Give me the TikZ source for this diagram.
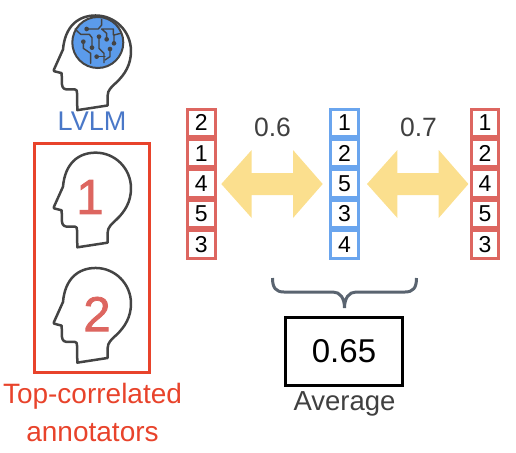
\documentclass[tikz,border=0pt]{standalone}
\usepackage{fontspec}
\setmainfont{Liberation Sans}
\newfontfamily\bigdigit[FakeBold=1.6]{Liberation Sans}
\definecolor{boxred}{HTML}{E8432B}
\definecolor{listred}{HTML}{DD6660}
\definecolor{listblue}{HTML}{6AA5EE}
\definecolor{arrowy}{HTML}{FBDF8E}
\definecolor{headgray}{HTML}{444444}
\definecolor{bracegray}{HTML}{5A6470}
\definecolor{brainblue}{HTML}{5B9BEB}
\definecolor{lvlmblue}{HTML}{4A78C8}
\definecolor{txtgray}{HTML}{404040}
\newcommand{\fs}[1]{\fontsize{#1}{#1}\selectfont}
\tikzset{
 x=1pt,y=-1pt,
 headline/.style={draw=headgray,line width=2.5pt,line join=round,line cap=round},
 redcell/.style={draw=listred,line width=3pt,minimum width=27.5pt,minimum height=27.4pt,inner sep=0pt,text=black,font=\fs{23}},
 bluecell/.style={redcell,draw=listblue},
 lbl/.style={inner sep=0pt,font=\fs{26.5},text=txtgray},
 dblarrow/.style={fill=arrowy,draw=none},
 trace/.style={draw=headgray,line width=1.4pt,line cap=round,line join=round},
 pics/head/.style={code={
  \draw[headline,x=0.3333pt,y=-0.3333pt]
   (142,322) -- (233,308) -- (233,278) .. controls (233,262) and (245,252) .. (258,240)
   .. controls (285,215) and (303,185) .. (303,145)
   .. controls (303,85) and (255,38) .. (197,38)
   .. controls (145,38) and (105,70) .. (99,140)
   -- (72,200) -- (72,205) -- (95,211) -- (96,245)
   .. controls (97,258) and (105,260) .. (115,260) -- (135,260)
   .. controls (140,260) and (141,264) .. (141,270) -- cycle;
 }}
}
\begin{document}
\begin{tikzpicture}
\useasboundingbox (0,0) rectangle (516,452);
% top head with circuit
\begin{scope}[shift={(30,0)}]
 \begin{scope}[yscale=0.94,shift={(0,3)}]
  \pic {head};
 \end{scope}
\end{scope}
\node[circle,draw=headgray,line width=2pt,fill=brainblue,minimum size=51pt,inner sep=0pt] (brain) at (97.8,42.5) {};
\begin{scope}[shift={(30,0)},x=0.3333pt,y=-0.3333pt]
 \draw[trace] (170,87) -- (205,87) -- (215,75) -- (215,58);
 \draw[trace] (135,87) -- (152,103) -- (178,103) -- (186,113) -- (186,143);
 \draw[trace] (160,125) -- (160,145) -- (182,160) -- (182,190);
 \draw[trace] (207,110) -- (207,145) -- (222,160) -- (222,188);
 \draw[trace] (230,118) -- (230,100) -- (215,87) -- (250,87) -- (250,105);
 \draw[trace] (252,130) -- (252,105) -- (272,100);
 \draw[trace] (240,147) -- (240,170) -- (225,180);
 \draw[trace] (200,170) -- (225,170);
 \foreach \p in {(170,87),(186,143),(160,125),(207,110),(230,118),(252,130),(240,147),(200,170)}
  \fill[headgray] \p circle (7);
\end{scope}
\node[inner sep=0pt,font=\fs{27},text=lvlmblue] (lvlm) at (92,121) {LVLM};
% red box
\node[draw=boxred,line width=3pt,minimum width=115.5pt,minimum height=228.5pt,inner sep=0pt] (topbox) at (92,257.8) {};
\pic at (30,140) {head};
\pic at (30,255.3) {head};
\node[inner sep=0pt,font=\fs{49}\bigdigit,text=listred] (one) at (90,197) {1};
\node[inner sep=0pt,font=\fs{49}\bigdigit,text=listred] (two) at (97,314) {2};
\node[inner sep=0pt,font=\fs{28},text=boxred] (top) at (92.5,396) {Top-correlated};
\node[inner sep=0pt,font=\fs{28},text=boxred] (ann) at (92.5,433) {annotators};
% lists
\foreach \n/\t [count=\i from 0] in {a/2,b/1,c/4,d/5,e/3}
  \node[redcell] (L\n) at (201.3,122.7+\i*30.4) {\t};
\foreach \n/\t [count=\i from 0] in {a/1,b/2,c/5,d/3,e/4}
  \node[bluecell] (M\n) at (344.5,122.7+\i*30.4) {\t};
\foreach \n/\t [count=\i from 0] in {a/1,b/2,c/4,d/5,e/3}
  \node[redcell] (R\n) at (485,122.7+\i*30.4) {\t};
% double arrows
\fill[dblarrow] (221.3,184) -- (251.7,150) -- (251.7,173) -- (293,173) -- (293,150) -- (322.7,184) -- (293,218) -- (293,195) -- (251.7,195) -- (251.7,218) -- cycle;
\fill[dblarrow] (367,184) -- (397.4,150) -- (397.4,173) -- (438.7,173) -- (438.7,150) -- (468.4,184) -- (438.7,218) -- (438.7,195) -- (397.4,195) -- (397.4,218) -- cycle;
\node[lbl] (v1) at (272.5,127) {0.6};
\node[lbl] (v2) at (418.5,127) {0.7};
% brace
\draw[draw=bracegray,line width=3pt]
 (272.5,278) .. controls (272.5,288) and (276,292) .. (284,292) -- (333,292)
 .. controls (340,292) and (344.5,298) .. (344.5,308)
 .. controls (344.5,298) and (349,292) .. (356,292) -- (405,292)
 .. controls (413,292) and (416.5,288) .. (416.5,278);
% result
\node[draw=black,line width=3pt,minimum width=117pt,minimum height=67.5pt,inner sep=0pt,font=\fs{33},text=black] (res) at (344,351.3) {0.65};
\node[inner sep=0pt,font=\fs{27.5},text=txtgray] (avg) at (344.5,404) {Average};
\end{tikzpicture}
\end{document}
